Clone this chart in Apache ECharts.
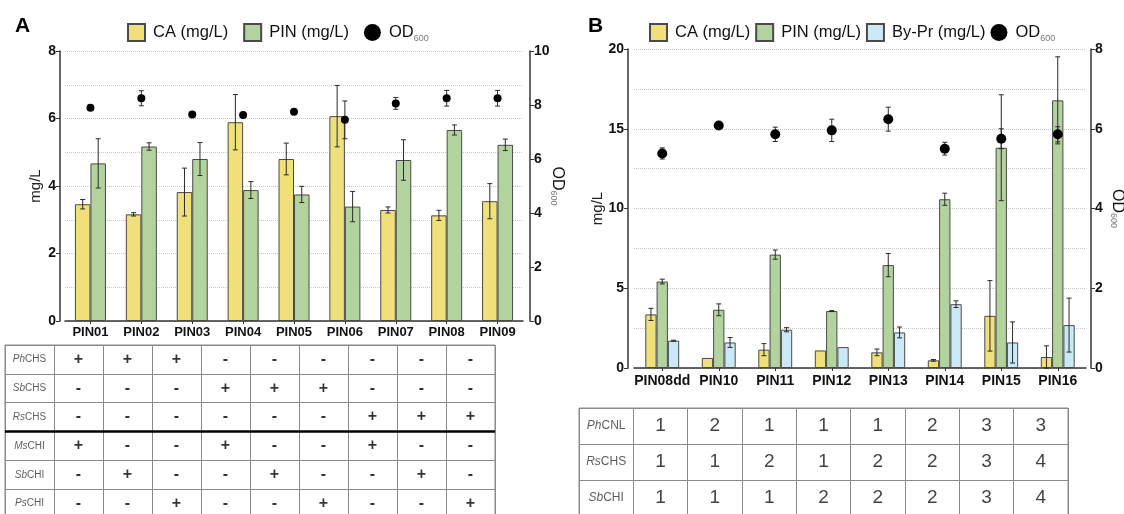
<!DOCTYPE html>
<html><head><meta charset="utf-8">
<script src="https://cdn.jsdelivr.net/npm/echarts@6/dist/echarts.min.js"></script>
<style>html,body{margin:0;padding:0;background:#fff}#c{width:1124px;height:514px}</style>
</head><body><div id="c"></div>
<script>
// ---------- Panel A data ----------
const catsA = ['PIN01','PIN02','PIN03','PIN04','PIN05','PIN06','PIN07','PIN08','PIN09'];
const caA     = [3.46,3.16,3.82,5.89,4.80,6.07,3.29,3.13,3.55];
const caAErr  = [0.14,0.05,0.71,0.82,0.47,0.91,0.09,0.15,0.52];
const pinA    = [4.67,5.17,4.80,3.88,3.75,3.39,4.77,5.66,5.22];
const pinAErr = [0.73,0.11,0.49,0.25,0.24,0.45,0.60,0.15,0.17];
const odA     = [7.90,8.25,7.65,7.63,7.75,7.45,8.06,8.25,8.25];
const odAErr  = [0,0.28,0,0,0,0.70,0.22,0.29,0.29];
const tableARows = [['Ph','CHS'],['Sb','CHS'],['Rs','CHS'],['Ms','CHI'],['Sb','CHI'],['Ps','CHI']];
const tableA = [
  ['+','+','+','-','-','-','-','-','-'],
  ['-','-','-','+','+','+','-','-','-'],
  ['-','-','-','-','-','-','+','+','+'],
  ['+','-','-','+','-','-','+','-','-'],
  ['-','+','-','-','+','-','-','+','-'],
  ['-','-','+','-','-','+','-','-','+']
];
// ---------- Panel B data ----------
const catsB = ['PIN08dd','PIN10','PIN11','PIN12','PIN13','PIN14','PIN15','PIN16'];
const caB     = [3.36,0.63,1.15,1.10,0.98,0.48,3.27,0.69];
const caBErr  = [0.38,0,0.38,0,0.21,0.05,2.21,0.70];
const pinB    = [5.42,3.65,7.11,3.57,6.45,10.58,13.81,16.78];
const pinBErr = [0.15,0.37,0.29,0.03,0.73,0.38,3.32,2.73];
const bpB     = [1.71,1.60,2.40,1.31,2.23,4.00,1.60,2.69];
const bpBErr  = [0.03,0.31,0.13,0,0.34,0.21,1.29,1.69];
const odB     = [5.38,6.08,5.86,5.96,6.24,5.50,5.75,5.86];
const odBErr  = [0.14,0,0.18,0.28,0.30,0.16,0.25,0.19];
const tableBRows = [['Ph','CNL'],['Rs','CHS'],['Sb','CHI']];
const tableB = [
  ['1','2','1','1','1','2','3','3'],
  ['1','1','2','1','2','2','3','4'],
  ['1','1','1','2','2','2','3','4']
];

const YEL='#EFE07C', GRN='#B3D39E', BLU='#CBE8F8', EDGE='#4a4a4a', AX='#333';
const FONT='Liberation Sans, Arial, sans-serif';

function errSeries(xi, yi, vals, errs, dx, z){
  return {type:'custom', xAxisIndex:xi, yAxisIndex:yi, z:z, silent:true,
    data: vals.map((v,i)=>[i,v,errs[i]]),
    renderItem:function(p,api){
      const e=api.value(2); if(!e) return null;
      const c=api.value(0), v=api.value(1);
      const t=api.coord([c,v+e]), b=api.coord([c,v-e]);
      const x=t[0]+dx, st={stroke:'#2a2a2a',lineWidth:1};
      return {type:'group',children:[
        {type:'line',shape:{x1:x,y1:t[1],x2:x,y2:b[1]},style:st},
        {type:'line',shape:{x1:x-2.5,y1:t[1],x2:x+2.5,y2:t[1]},style:st},
        {type:'line',shape:{x1:x-2.5,y1:b[1],x2:x+2.5,y2:b[1]},style:st}]};
    }};
}
function tableSeries(xi, yi, rows, cells, numStyle, headSize, markRow){
  const data=[];
  rows.forEach((r,ri)=>{
    data.push({value:[0.5,ri+0.5,'{i|'+r[0]+'}{n|'+r[1]+'}']});
    cells[ri].forEach((t,ci)=>data.push({value:[ci+1.5,ri+0.5,'{v|'+t+'}']}));
  });
  const s={type:'scatter', xAxisIndex:xi, yAxisIndex:yi, symbolSize:0.1, silent:true,
    itemStyle:{color:'transparent'}, data:data,
    label:{show:true, position:'inside', formatter:p=>p.value[2],
      rich:{i:{fontStyle:'italic',fontSize:headSize,color:'#333',fontFamily:FONT},
            n:{fontSize:headSize,color:'#333',fontFamily:FONT},
            v:numStyle}}};
  if(markRow!=null){
    s.markLine={symbol:'none',silent:true,label:{show:false},
      lineStyle:{color:'#000',width:2.5,type:'solid'},data:[{yAxis:markRow}]};
  }
  return s;
}
const hid={show:false};
function tableAxes(gi, n, inv){
  return {type:'value', gridIndex:gi, min:0, max:n, interval:1, inverse:!!inv,
    axisLine:hid, axisTick:hid, axisLabel:hid,
    splitLine:{show:true, showMinLine:true, showMaxLine:true, lineStyle:{color:'#8a8a8a',width:1}}};
}
const odName = '{a|OD}{s|600}';
const odRich = {a:{fontSize:16,color:'#111',fontFamily:FONT,lineHeight:16},
                s:{fontSize:9,color:'#777',fontFamily:FONT,verticalAlign:'bottom',lineHeight:10}};
const legRich = {a:{fontSize:16.5,color:'#111',fontFamily:FONT,lineHeight:22},
                s:{fontSize:9,color:'#777',fontFamily:FONT,verticalAlign:'bottom',lineHeight:10}};
function valAxis(gi, pos, off, max, iv, name, gap, grid, rot){
  const a={type:'value', gridIndex:gi, position:pos, offset:off, min:0, max:max, interval:iv,
    axisLine:{show:true,lineStyle:{color:AX,width:1.5}},
    axisTick:{show:true,length:4,lineStyle:{color:AX}},
    axisLabel:{fontWeight:'bold',fontSize:14,color:'#111',margin:4,fontFamily:FONT},
    splitLine:{show:grid,lineStyle:{type:'dotted',color:'#c8c8c8'}},
    name:name, nameLocation:'middle', nameGap:gap, nameMoveOverlap:false,
    nameTextStyle:{fontSize:15,color:'#222',fontFamily:FONT, rich:odRich}};
  if(grid){a.minorTick={show:false,splitNumber:2};a.minorSplitLine={show:true,lineStyle:{type:'dotted',color:'#c8c8c8'}};}
  if(rot!=null) a.nameRotate=rot;
  return a;
}
function catAxis(gi, cats, fs, margin){
  return {type:'category', gridIndex:gi, data:cats,
    axisLine:{show:true,lineStyle:{color:AX,width:1.5}},
    axisTick:{show:true,alignWithLabel:true,length:3,lineStyle:{color:AX}},
    axisLabel:{fontWeight:'bold',fontSize:fs,color:'#111',margin:margin,interval:0,fontFamily:FONT},
    splitLine:hid};
}
function bar(name, xi, yi, data, color, w){
  return {type:'bar', name:name, xAxisIndex:xi, yAxisIndex:yi, data:data, barWidth:w, barGap:'0%',
    itemStyle:{color:color,borderColor:EDGE,borderWidth:1}, z:2};
}
function od(xi, yi, data, size){
  return {type:'scatter', name:'OD600', xAxisIndex:xi, yAxisIndex:yi, data:data, symbolSize:size,
    itemStyle:{color:'#000',opacity:1}, z:6};
}
const legendText = {fontSize:16.5,color:'#111',fontFamily:FONT,rich:legRich,padding:[0,0,0,3]};
const fmtLeg = n => n==='OD600' ? odName : n;

const option = {
  animation:false,
  textStyle:{fontFamily:FONT},
  title:[
    {text:'A', left:10, top:11, textStyle:{fontSize:21,fontWeight:'bold',color:'#000',fontFamily:FONT}},
    {text:'B', left:583, top:11, textStyle:{fontSize:21,fontWeight:'bold',color:'#000',fontFamily:FONT}}
  ],
  legend:[
    {left:122, top:18, itemWidth:17, itemHeight:17, itemGap:15, selectedMode:false,
     textStyle:legendText, formatter:fmtLeg,
     data:[{name:'CA (mg/L)',icon:'rect'},{name:'PIN (mg/L)',icon:'rect'},{name:'OD600',icon:'circle'}]},
    {left:644, top:18, itemWidth:17, itemHeight:17, itemGap:5, selectedMode:false,
     textStyle:legendText, formatter:fmtLeg,
     data:[{name:'CA (mg/L)',icon:'rect'},{name:'PIN (mg/L)',icon:'rect'},{name:'By-Pr (mg/L)',icon:'rect'},{name:'OD600',icon:'circle'}]}
  ],
  grid:[
    {left:65, top:51, width:458, height:270, outerBoundsMode:'none', containLabel:false},
    {left:5, top:345, width:490, height:173, outerBoundsMode:'none', containLabel:false, show:true, borderColor:'#8a8a8a', borderWidth:1},
    {left:634, top:49, width:452, height:319, outerBoundsMode:'none', containLabel:false},
    {left:579, top:408, width:489, height:108, outerBoundsMode:'none', containLabel:false, show:true, borderColor:'#8a8a8a', borderWidth:1}
  ],
  xAxis:[
    catAxis(0, catsA, 13, 5),
    tableAxes(1, 10),
    catAxis(2, catsB, 14, 6),
    tableAxes(3, 9)
  ],
  yAxis:[
    valAxis(0,'left',5,8,2,'mg/L',17,true),
    valAxis(0,'right',7,10,2,odName,19,false,-90),
    tableAxes(1, 6, true),
    valAxis(2,'left',6,20,5,'mg/L',23,true),
    valAxis(2,'right',5,8,2,odName,18,false,-90),
    tableAxes(3, 3, true)
  ],
  series:[
    bar('CA (mg/L)',0,0,caA,YEL,15.5),
    bar('PIN (mg/L)',0,0,pinA,GRN,15.5),
    errSeries(0,0,caA,caAErr,-7.75,4),
    errSeries(0,0,pinA,pinAErr,7.75,4),
    od(0,1,odA,8),
    errSeries(0,1,odA,odAErr,0,5),
    tableSeries(1,2,tableARows,tableA,{fontSize:16,fontWeight:'bold',color:'#000',fontFamily:FONT},10,3),
    bar('CA (mg/L)',2,3,caB,YEL,11.3),
    bar('PIN (mg/L)',2,3,pinB,GRN,11.3),
    bar('By-Pr (mg/L)',2,3,bpB,BLU,11.3),
    errSeries(2,3,caB,caBErr,-11.3,4),
    errSeries(2,3,pinB,pinBErr,0,4),
    errSeries(2,3,bpB,bpBErr,11.3,4),
    od(2,4,odB,10),
    errSeries(2,4,odB,odBErr,0,5),
    tableSeries(3,5,tableBRows,tableB,{fontSize:19,color:'#111',fontFamily:FONT},12,null)
  ]
};
const chart = echarts.init(document.getElementById('c'), null, {renderer:'canvas'});
chart.setOption(option);
</script></body></html>
